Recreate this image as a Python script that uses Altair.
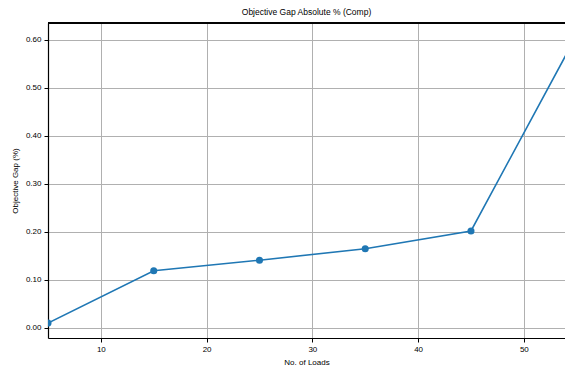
import altair as alt
import pandas as pd

loads = [5, 15, 25, 35, 45, 55]
gap = [0.010, 0.119, 0.141, 0.165, 0.202, 0.610]
y_domain = [-0.021, 0.635]

df = pd.DataFrame({"loads": loads, "gap": gap})

FONT = "Liberation Sans"
BLUE = "#1f77b4"

xscale = alt.Scale(domain=[5, 53.89], nice=False, zero=False)
yscale = alt.Scale(domain=y_domain, nice=False, zero=False)
x = alt.X("loads:Q", title="No. of Loads", scale=xscale,
          axis=alt.Axis(values=[10, 20, 30, 40, 50], format="d"))
y = alt.Y("gap:Q", title="Objective Gap (%)", scale=yscale,
          axis=alt.Axis(values=[0, 0.1, 0.2, 0.3, 0.4, 0.5, 0.6], format=".2f"))

line = alt.Chart(df).mark_line(color=BLUE, strokeWidth=1.6, clip=True).encode(x=x, y=y)
pts = alt.Chart(df).mark_point(color=BLUE, filled=True, opacity=1, size=50, clip=True).encode(x=x, y=y)
top = alt.Chart(df).mark_rule(color="black", strokeWidth=1.2).encode(
    y=alt.Y(datum=y_domain[1], scale=yscale))

chart = (line + pts + top).properties(
    width=517, height=315,
    title=alt.TitleParams("Objective Gap Absolute % (Comp)", font=FONT, fontSize=8.5,
                          fontWeight="normal", color="black", offset=6),
    padding={"left": 40, "top": 15, "right": 0, "bottom": 28},
    autosize=alt.AutoSizeParams(type="none"),
).configure_view(stroke=None).configure_axis(
    labelFont=FONT, titleFont=FONT, labelFontSize=8, titleFontSize=8,
    titleFontWeight="normal", labelColor="black", titleColor="black",
    domainColor="black", domainWidth=1.2, tickColor="black", tickSize=4, tickWidth=1,
    gridColor="#b0b0b0", gridWidth=1, gridOpacity=1, labelPadding=3,
).configure_axisY(titlePadding=6).configure_axisX(titlePadding=5)

chart.save("out.html", embed_options={"renderer": "svg", "actions": False})
